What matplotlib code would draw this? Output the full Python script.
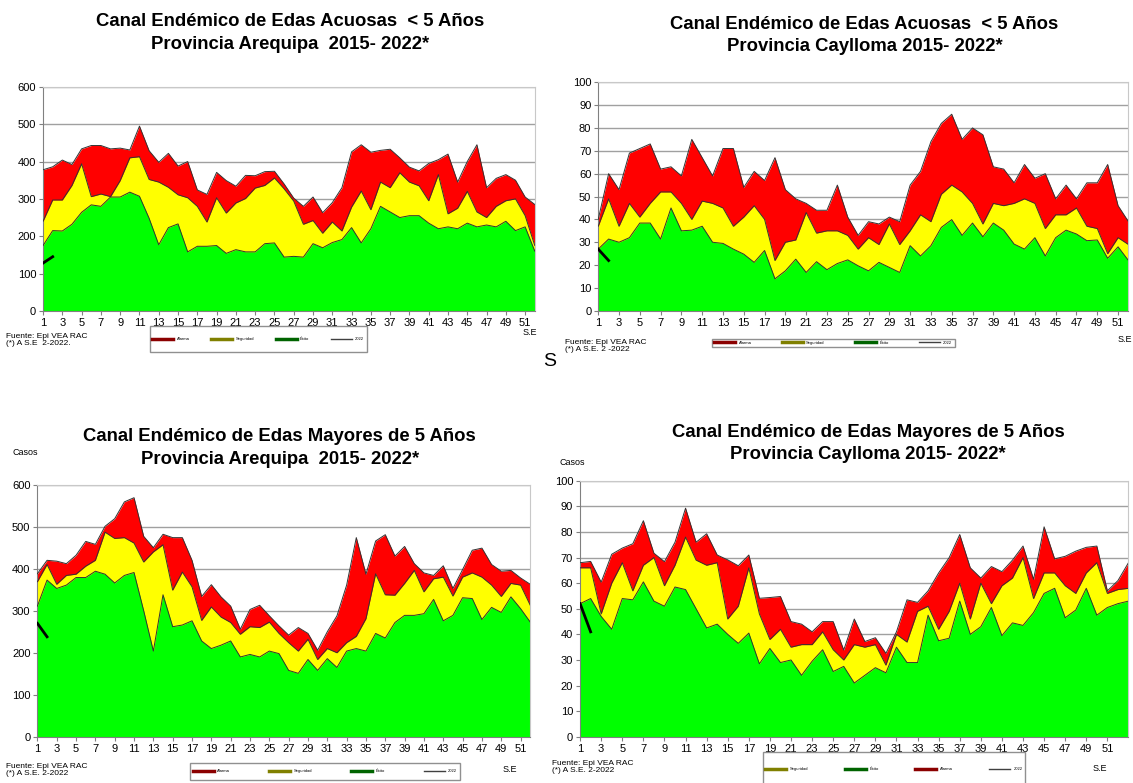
import matplotlib
matplotlib.use("Agg")
import matplotlib.pyplot as plt
from matplotlib.lines import Line2D
from matplotlib.patches import Rectangle

plt.rcParams['font.family'] = ['Liberation Sans', 'DejaVu Sans']

# --- datos (limites superiores de cada zona) ---
semanas52 = list(range(1, 53))
semanas53 = list(range(1, 54))

# Edas acuosas < 5 anos - Arequipa
aq_areq_exito = [175, 215, 214, 232, 264, 284, 280, 305, 305, 318, 307, 248, 177, 223, 233, 158,
                 173, 173, 175, 154, 164, 158, 158, 180, 182, 144, 146, 144, 180, 169, 183, 191,
                 223, 182, 220, 280, 265, 250, 255, 255, 235, 220, 225, 220, 235, 225, 230, 225,
                 240, 215, 225, 160]
aq_areq_seguridad = [240, 297, 297, 336, 394, 306, 313, 306, 349, 410, 413, 352, 345, 331, 311, 303,
                     280, 238, 303, 262, 289, 301, 329, 336, 356, 327, 294, 232, 242, 208, 238, 214,
                     278, 321, 271, 345, 330, 370, 345, 335, 295, 365, 260, 275, 320, 265, 250, 280,
                     295, 300, 255, 175]
aq_areq_alarma = [378, 386, 404, 392, 434, 443, 443, 434, 436, 431, 495, 429, 398, 422, 388, 400,
                  324, 312, 371, 349, 334, 363, 362, 373, 374, 340, 302, 280, 305, 263, 290, 330,
                  426, 445, 425, 430, 433, 410, 385, 375, 395, 405, 420, 345, 400, 445, 330, 355,
                  365, 350, 305, 285]
aq_areq_2022 = [128, 145]

# Edas acuosas < 5 anos - Caylloma
aq_cay_exito = [27, 31.4, 30, 32, 38.4, 38.4, 31.4, 45, 35, 35.3, 37, 30, 29.5, 27, 24.8, 21.2,
                26.4, 14, 17.5, 22.6, 16.8, 21.5, 18, 20.7, 22.3, 19.7, 17.5, 21.2, 19, 16.8, 28.5, 24,
                28.5, 36.5, 39.9, 33, 38.4, 32.4, 38.4, 35.3, 29.2, 27, 32, 24, 32, 35.3, 33.6, 30.7,
                31, 23, 28, 22]
aq_cay_seguridad = [37, 49, 37, 47, 41, 47, 52, 52, 47, 40, 48, 47, 45, 37, 41, 46,
                    40, 22, 30, 31, 43, 34, 35, 35, 33, 27, 32, 29, 38, 29, 35, 42,
                    39, 51, 55, 52, 47, 38, 47, 46, 47, 49, 47, 36, 42, 42, 45, 37,
                    36, 25, 32, 29]
aq_cay_alarma = [40, 60, 53, 69, 71, 73, 62, 63, 59, 75, 67, 59, 71, 71, 54, 61,
                 57, 67, 53, 49, 47, 44, 44, 55, 41, 33, 39, 38, 41, 39, 55, 61,
                 74, 82, 86, 75, 80, 77, 63, 62, 56, 64, 58, 60, 49, 55, 49, 56,
                 56, 64, 46, 39]
aq_cay_2022 = [27, 22]

# Edas > 5 anos - Arequipa
may_areq_exito = [311, 373, 353, 361, 379, 379, 394, 387, 366, 384, 391, 300, 204, 338, 262, 266,
                  276, 228, 210, 218, 228, 190, 196, 190, 204, 198, 158, 151, 184, 158, 186, 165,
                  204, 210, 204, 246, 235, 272, 289, 289, 293, 327, 276, 289, 331, 329, 279, 308,
                  296, 333, 305, 273]
may_areq_seguridad = [369, 410, 363, 384, 387, 406, 420, 487, 472, 474, 461, 416, 440, 457, 349, 392,
                      357, 277, 309, 285, 272, 244, 262, 260, 273, 246, 224, 204, 232, 184, 210, 200,
                      224, 239, 281, 388, 338, 337, 365, 396, 345, 376, 380, 335, 380, 390, 380, 361,
                      334, 365, 361, 313]
may_areq_alarma = [388, 420, 418, 412, 432, 465, 458, 501, 519, 559, 569, 477, 450, 482, 474, 474,
                   420, 334, 362, 333, 311, 256, 303, 313, 288, 264, 242, 260, 246, 206, 250, 288,
                   361, 474, 387, 466, 481, 430, 453, 412, 390, 384, 407, 353, 398, 444, 449, 410,
                   394, 396, 378, 363]
may_areq_2022 = [270, 238]

# Edas > 5 anos - Caylloma
may_cay_exito = [52, 54, 47, 42, 54, 53.5, 60.5, 53, 51, 58.5, 57.5, 50, 42.5, 44, 40, 36.5,
                 40.5, 28.5, 34.5, 29, 30, 24, 29.5, 34, 25.5, 27.5, 21, 24, 27, 25, 35, 29,
                 29, 47.5, 37.5, 38.5, 53, 40, 43, 50.5, 39.5, 44.5, 43.5, 48.5, 56, 58, 46.5, 49.5,
                 58, 47.5, 50.5, 52, 53]
may_cay_seguridad = [66, 66, 48, 60, 68, 57, 67, 70, 59, 67, 78, 69, 67, 68, 46, 51,
                     66, 48, 38, 42, 35, 36, 36, 41, 34, 30, 36, 35, 36, 28, 40, 37,
                     49, 51, 42, 49, 60, 46, 60, 52, 59, 62, 70, 54, 64, 64, 59, 56,
                     64, 68, 56, 57.5, 58]
may_cay_alarma = [68, 68.5, 60.4, 71.3, 73.7, 75.4, 84.4, 71.7, 68.4, 76, 89.3, 76, 79.3, 71, 69.1, 66.8,
                  71, 54.1, 54.4, 54.8, 45, 44, 41, 45, 45, 33.9, 46, 37.2, 38.7, 32.6, 41, 53.5,
                  52.5, 57, 64, 70, 79, 66, 62, 66.5, 64.5, 69, 74.5, 61.5, 82, 69.5, 70.5, 72.5,
                  74, 74.5, 57, 61, 68]
may_cay_2022 = [52, 41]

titulo_acuosas = "Canal Endémico de Edas Acuosas  < 5 Años"
titulo_mayores = "Canal Endémico de Edas Mayores de 5 Años"
sub_areq = "Provincia Arequipa  2015- 2022*"
sub_cay = "Provincia Caylloma 2015- 2022*"

ROJO, AMARILLO, VERDE = '#FF0000', '#FFFF00', '#00FF00'

fig = plt.figure(figsize=(11.33, 7.83), dpi=100)


def canal(rect, semanas, exito, seguridad, alarma, casos2022, ymax, ystep):
    ax = fig.add_axes(rect)
    ax.fill_between(semanas, 0, alarma, color=ROJO, lw=0, zorder=2)
    ax.fill_between(semanas, 0, seguridad, color=AMARILLO, lw=0, zorder=2)
    ax.fill_between(semanas, 0, exito, color=VERDE, lw=0, zorder=2)
    for serie in (alarma, seguridad, exito):
        ax.plot(semanas, serie, color='#333333', lw=0.7, zorder=3)
    ax.plot(semanas[:len(casos2022)], casos2022, color='black', lw=2, zorder=4)
    ax.set_xlim(1, semanas[-1])
    ax.set_ylim(0, ymax)
    ax.set_yticks(range(0, ymax + 1, ystep))
    ax.set_xticks(range(1, 52, 2))
    ax.grid(axis='y', color='#a0a0a0', lw=1, zorder=1)
    ax.set_axisbelow(True)
    for s in ('top', 'right'):
        ax.spines[s].set_color('#c8c8c8')
    for s in ('left', 'bottom'):
        ax.spines[s].set_color('#808080')
    ax.tick_params(labelsize=8, length=3, color='#808080', pad=2)
    return ax


canal([0.038, 0.603, 0.434, 0.286], semanas52, aq_areq_exito, aq_areq_seguridad,
      aq_areq_alarma, aq_areq_2022, 600, 100)
canal([0.528, 0.603, 0.468, 0.292], semanas52, aq_cay_exito, aq_cay_seguridad,
      aq_cay_alarma, aq_cay_2022, 100, 10)
canal([0.033, 0.059, 0.435, 0.322], semanas52, may_areq_exito, may_areq_seguridad,
      may_areq_alarma, may_areq_2022, 600, 100)
canal([0.512, 0.059, 0.484, 0.327], semanas53, may_cay_exito, may_cay_seguridad,
      may_cay_alarma, may_cay_2022, 100, 10)

# titulos
tit = dict(fontsize=13.3, fontweight='bold', ha='center', va='center')
fig.text(0.256, 0.972, titulo_acuosas, **tit)
fig.text(0.256, 0.943, sub_areq, **tit)
fig.text(0.763, 0.969, titulo_acuosas, **tit)
fig.text(0.763, 0.940, sub_cay, **tit)
fig.text(0.247, 0.442, titulo_mayores, **tit)
fig.text(0.247, 0.413, sub_areq, **tit)
fig.text(0.766, 0.448, titulo_mayores, **tit)
fig.text(0.766, 0.419, sub_cay, **tit)

fig.text(0.011, 0.419, "Casos", fontsize=6.5)
fig.text(0.494, 0.406, "Casos", fontsize=6.5)

fuente = dict(fontsize=6, va='top', linespacing=1.0)
fig.text(0.005, 0.575, "Fuente: Epi VEA RAC\n(*) A S.E  2-2022.", **fuente)
fig.text(0.499, 0.567, "Fuente: Epi VEA RAC\n(*) A S.E. 2 -2022", **fuente)
fig.text(0.005, 0.026, "Fuente: Epi VEA RAC\n(*) A S.E. 2-2022", **fuente)
fig.text(0.487, 0.030, "Fuente: Epi VEA RAC\n(*) A S.E. 2-2022", **fuente)

fig.text(0.485, 0.538, "S", fontsize=14, ha='center', va='center')

se = dict(fontsize=6.5, ha='center', va='center')
fig.text(0.468, 0.575, "S.E", **se)
fig.text(0.993, 0.566, "S.E", **se)
fig.text(0.450, 0.017, "S.E", **se)
fig.text(0.971, 0.019, "S.E", **se)


# leyendas (texto muy pequeno como en el original)
def leyenda(caja, orden):
    estilos = {'Alarma': ('#8B0000', 2.5), 'Seguridad': ('#808000', 2.5),
               'Éxito': ('#006400', 2.5), '2022': ('#404040', 1)}
    x0, y0, w, h = caja
    fig.patches.append(Rectangle((x0, y0), w, h, transform=fig.transFigure,
                                 facecolor='white', edgecolor='#909090', lw=1))
    handles = [Line2D([], [], color=estilos[n][0], lw=estilos[n][1]) for n in orden]
    fig.legend(handles, orden, loc='center', bbox_to_anchor=(x0, y0, w, h),
               bbox_transform=fig.transFigure, mode='expand', ncol=4, fontsize=3,
               frameon=False, handlelength=5, borderaxespad=0.3)


orden = ['Alarma', 'Seguridad', 'Éxito', '2022']
leyenda((0.132, 0.550, 0.192, 0.034), orden)
leyenda((0.628, 0.557, 0.215, 0.010), orden)
leyenda((0.168, 0.004, 0.238, 0.022), orden)
leyenda((0.673, -0.005, 0.232, 0.045), ['Seguridad', 'Éxito', 'Alarma', '2022'])

fig.savefig("out.png", dpi=100)
